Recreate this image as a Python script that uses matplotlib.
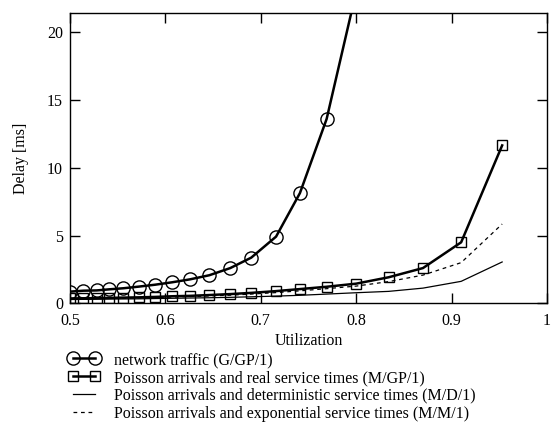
import matplotlib
matplotlib.use("Agg")
import matplotlib.pyplot as plt
import numpy as np
from matplotlib.ticker import FuncFormatter

plt.rcParams['font.family'] = ['Liberation Serif', 'DejaVu Serif']

# utilization sample points
util = [0.500, 0.514, 0.528, 0.541, 0.556, 0.572, 0.589, 0.607, 0.626, 0.646,
        0.668, 0.690, 0.716, 0.741, 0.769, 0.800, 0.834, 0.870, 0.910, 0.953]

# delays [ms]
gp1 = [0.86, 0.93, 0.95, 1.03, 1.11, 1.23, 1.37, 1.55, 1.77, 2.07,
       2.60, 3.37, 4.92, 8.13, 13.6, 23.0]
mgp1 = [0.36, 0.37, 0.38, 0.40, 0.42, 0.44, 0.47, 0.52, 0.55, 0.61,
        0.68, 0.77, 0.90, 1.05, 1.22, 1.45, 1.92, 2.60, 4.50, 11.65]
md1 = [0.28, 0.29, 0.30, 0.31, 0.32, 0.33, 0.35, 0.37, 0.39, 0.41,
       0.44, 0.48, 0.53, 0.59, 0.68, 0.78, 0.88, 1.12, 1.62, 3.05]
mm1 = [0.33, 0.34, 0.35, 0.36, 0.38, 0.40, 0.43, 0.46, 0.50, 0.54,
       0.60, 0.68, 0.79, 0.92, 1.08, 1.27, 1.60, 2.08, 3.00, 5.85]

labels = ["network traffic (G/GP/1)",
          "Poisson arrivals and real service times (M/GP/1)",
          "Poisson arrivals and deterministic service times (M/D/1)",
          "Poisson arrivals and exponential service times (M/M/1)"]

fig = plt.figure(figsize=(5.51, 4.24), dpi=100)
ax = fig.add_axes([70/551, 1-303.3/424, 477/551, 290.3/424])

ax.plot(util[:len(gp1)], gp1, color='black', lw=1.8, marker='o', ms=9.5,
        mfc='none', mec='black', mew=1.0, label=labels[0])
ax.plot(util, mgp1, color='black', lw=1.8, marker='s', ms=7.5,
        mfc='none', mec='black', mew=1.0, label=labels[1])
ax.plot(util, md1, color='black', lw=0.9, label=labels[2])
ax.plot(util, mm1, color='black', lw=0.9, ls=(0, (3, 3)), label=labels[3])

ax.set_xlim(0.5, 1.0)
ax.set_ylim(0, 21.42)
ax.set_xticks(np.arange(0.5, 1.01, 0.1))
ax.set_yticks([0, 5, 10, 15, 20])
ax.xaxis.set_major_formatter(FuncFormatter(lambda v, p: f"{v:g}"))
ax.tick_params(direction='in', length=7, width=1, top=True, right=True,
               labelsize=11.5)
ax.tick_params(axis='x', pad=7)
ax.tick_params(axis='y', pad=5)
for s in ax.spines.values():
    s.set_linewidth(1.0)

ax.set_xlabel("Utilization", fontsize=11.5, labelpad=3)
ax.set_ylabel("Delay [ms]", fontsize=11.5, labelpad=13)

fig.legend(loc='upper left', bbox_to_anchor=(68/551, 1-352/424),
           frameon=False, fontsize=11.5, numpoints=2, handlelength=2.0,
           handletextpad=0.85, labelspacing=0.12, borderpad=0, borderaxespad=0)

fig.savefig("out.png", dpi=100)
